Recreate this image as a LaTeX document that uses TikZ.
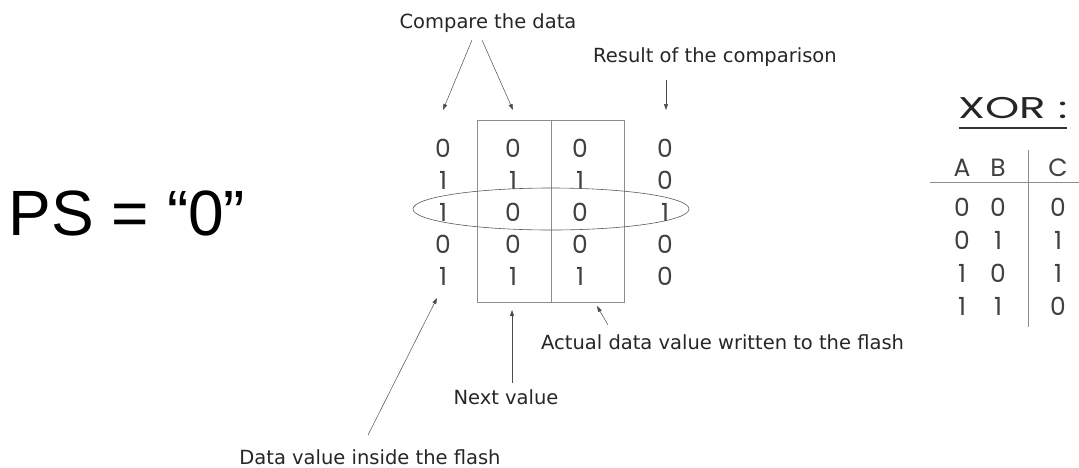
\documentclass[tikz,border=0pt]{standalone}
\usepackage{fontspec}
\setmainfont{DejaVu Sans}
\newfontfamily\gothic{Poppins}
\newfontfamily\gothicwide{Poppins}[FakeStretch=1.45]
\newfontfamily\psfont{Liberation Sans}
\usetikzlibrary{arrows.meta,shapes.geometric}
\begin{document}
\begin{tikzpicture}[x=1pt,y=-1pt,
	label node/.style={inner sep=0pt,text=black!85,font=\fontsize{19.5}{23}\selectfont},
	bit node/.style={inner sep=0pt,text=black!75,font=\gothic\fontsize{25}{30}\selectfont},
	arr/.style={draw=black!70,line width=0.5pt,-{Triangle[length=6pt,width=4pt]}},
	grid line/.style={draw=black!45,line width=0.7pt}]
	\useasboundingbox (0,0) rectangle (1079,467);
	
	\node[inner sep=0pt,font=\psfont\fontsize{64}{70}\selectfont] (ps) at (127,213) {PS = “0”};
	
	\foreach \x/\vals [count=\c from 0] in {443/{0,1,1,0,1},513/{0,1,0,0,1},580/{0,1,0,0,1},665/{0,0,1,0,0}}{
		\foreach \v [count=\r from 0] in \vals{
			\node[bit node] (b\c\r) at (\x,148+32*\r) {\v};
		}
	}
	\draw[grid line] (477,120) rectangle (624,302);
	\draw[grid line] (551,120) -- (551,302);
	\node[draw=black!65,line width=0.6pt,ellipse,minimum width=276pt,minimum height=42pt] (sel) at (551,209) {};
	
	\node[label node] (cmp) at (488,23) {Compare the data};
	\node[label node,anchor=west] (res) at (593,57) {Result of the comparison};
	\node[label node,anchor=west] (act) at (541,342) {Actual data value written to the flash};
	\node[label node] (nxt) at (506,397) {Next value};
	\node[label node] (dat) at (370,457) {Data value inside the flash};
	
	\coordinate (c0) at (472,40);
	\coordinate (c1) at (482,40);
	\coordinate (t0) at (443,110);
	\coordinate (t1) at (513,110);
	\coordinate (r0) at (666,80);
	\coordinate (t3) at (666,110);
	\coordinate (d0) at (368,435);
	\coordinate (d1) at (437,298);
	\coordinate (n0) at (512,383);
	\coordinate (n1) at (512,310);
	\coordinate (a0) at (608,325);
	\coordinate (a1) at (597,306);
	\draw[arr] (c0) -- (t0);
	\draw[arr] (c1) -- (t1);
	\draw[arr] (r0) -- (t3);
	\draw[arr] (d0) -- (d1);
	\draw[arr] (n0) -- (n1);
	\draw[arr] (a0) -- (a1);
	
	\node[inner sep=0pt,text=black!85,font=\gothicwide\fontsize{30}{36}\selectfont] (xor) at (1013,108) {XOR :};
	\draw[black!80,line width=1.8pt] ([yshift=-9pt]xor.south west) -- ([yshift=-9pt]xor.south east);
	\foreach \h/\x in {A/962,B/998,C/1058}{
		\node[bit node] (h\h) at (\x,168) {\h};
	}
	\foreach \a/\b/\o [count=\r from 0] in {0/0/0,0/1/1,1/0/1,1/1/0}{
		\node[bit node] (ta\r) at (962,207+33*\r) {\a};
		\node[bit node] (tb\r) at (998,207+33*\r) {\b};
		\node[bit node] (tc\r) at (1058,207+33*\r) {\o};
	}
	\draw[grid line] (930,182) -- (1079,182);
	\draw[grid line] (1028,150) -- (1028,327);
\end{tikzpicture}
\end{document}
